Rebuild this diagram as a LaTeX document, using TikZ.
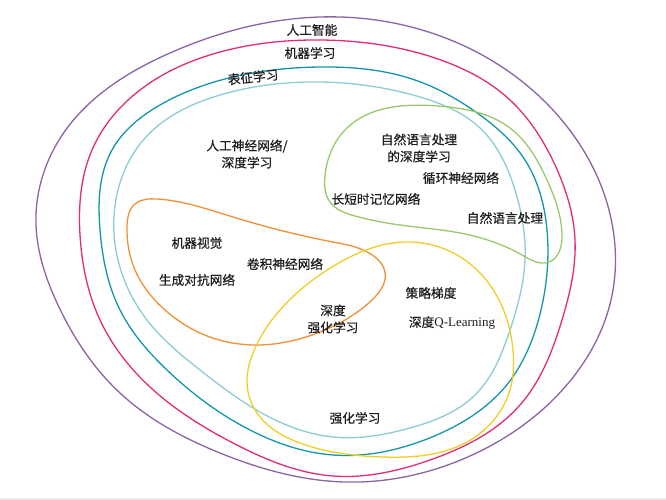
\documentclass[tikz,border=0pt]{standalone}
\usepackage{fontspec}
\usetikzlibrary{hobby}
\setmainfont{Liberation Serif}
\newfontfamily\cjk[FakeBold=0.5]{Noto Sans CJK SC}
\definecolor{cAI}{RGB}{140,100,165}
\definecolor{cML}{RGB}{225,45,120}
\definecolor{cRL}{RGB}{20,150,170}
\definecolor{cDL}{RGB}{140,205,212}
\definecolor{cNLP}{RGB}{155,200,105}
\definecolor{cCV}{RGB}{240,145,55}
\definecolor{cRF}{RGB}{242,205,40}
\definecolor{txt}{RGB}{30,30,30}
\tikzset{
  region/.style={line width=1.3pt},
  lbl/.style={font=\cjk\fontsize{12.7}{15}\selectfont, text=txt, inner sep=0pt, align=center},
}
\begin{document}
\begin{tikzpicture}[x=1pt,y=-1pt]
\useasboundingbox (0,0) rectangle (666,500);
\fill[white] (0,0) rectangle (666,500);
\fill[black!8] (0,498) rectangle (666,500);
% AI
\draw[cAI, region] plot[closed hobby] coordinates {(320,17) (460,44) (560,118) (609,210) (611,300) (565,387) (470,456) (345,482) (220,453) (120,393) (58,305) (36,225) (65,131) (170,53)};
% ML
\draw[cML, region] plot[closed hobby] coordinates {(320,40) (432,57) (510,100) (555,165) (575,240) (562,320) (520,405) (430,460) (333,476) (233,443) (150,387) (100,320) (80,235) (92,150) (140,90) (220,52)};
% Representation learning
\draw[cRL, region] plot[closed hobby] coordinates {(320,67) (415,80) (480,115) (525,160) (547,230) (541,310) (505,387) (432,437) (333,455) (250,430) (167,370) (120,310) (100,230) (112,150) (160,105) (233,77)};
% ANN / DL
\draw[cDL, region] plot[closed hobby] coordinates {(320,82) (420,97) (480,128) (515,190) (525,260) (510,330) (475,395) (410,428) (333,437) (260,412) (200,370) (147,320) (118,260) (118,190) (145,138) (220,95)};
% NLP
\draw[cNLP, region] plot[closed hobby] coordinates {(438,106) (510,128) (547,180) (562,235) (549,262) (522,255) (460,233) (400,225) (355,216) (330,202) (325,175) (345,130)};
% CV
\draw[cCV, region] plot[closed hobby] coordinates {(157,199) (233,217) (333,242) (375,257) (385,272) (372,300) (345,320) (306,337) (255,345) (200,333) (165,310) (135,270) (127,227) (135,204)};
% RL
\draw[cRF, region] plot[closed hobby] coordinates {(405,242) (465,260) (499,300) (513,350) (509,393) (465,443) (382,457) (300,443) (260,417) (247,383) (253,353) (280,310) (332,267)};
% labels
\node[lbl] (ai) at (312,30) {人工智能};
\node[lbl] (ml) at (310,53) {机器学习};
\node[lbl, rotate=6] (rep) at (253,77) {表征学习};
\node[lbl] (dl) at (247,154) {人工神经网络/\\[2pt]深度学习};
\node[lbl] (nlpdl) at (419,148) {自然语言处理\\[2pt]的深度学习};
\node[lbl] (rnn) at (461,178) {循环神经网络};
\node[lbl] (lstm) at (376,199) {长短时记忆网络};
\node[lbl] (nlp) at (505,218) {自然语言处理};
\node[lbl] (cv) at (197,243) {机器视觉};
\node[lbl] (cnn) at (285,264) {卷积神经网络};
\node[lbl] (gan) at (197,280) {生成对抗网络};
\node[lbl] (drl) at (333,319) {深度\\[2pt]强化学习};
\node[lbl] (pg) at (431,293) {策略梯度};
\node[lbl] (dqn) at (452,323) {深度{\rmfamily\fontsize{13}{15}\selectfont Q-Learning}};
\node[lbl] (rl) at (355,418) {强化学习};
\end{tikzpicture}
\end{document}
